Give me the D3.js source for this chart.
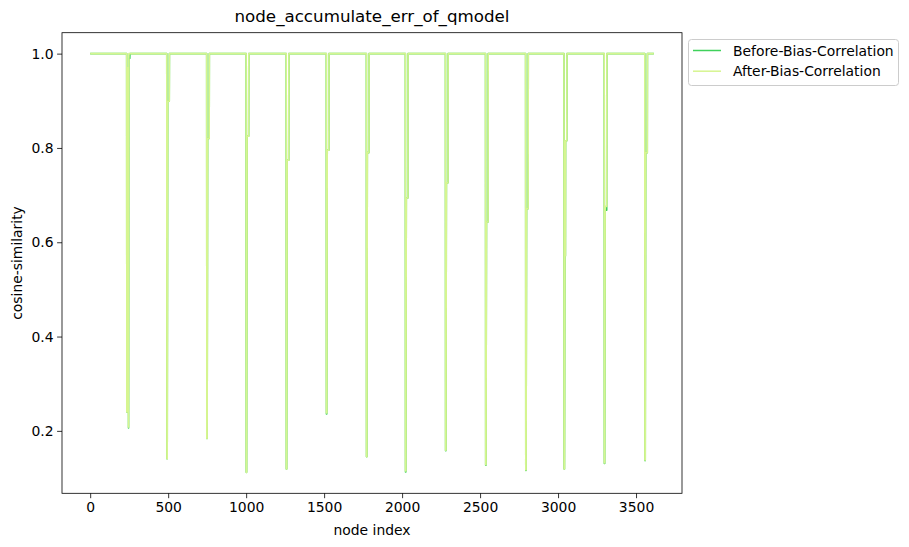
<!DOCTYPE html>
<html>
<head>
<meta charset="utf-8">
<script src="https://cdn.jsdelivr.net/npm/d3@7"></script>
<style>
  html, body { margin: 0; padding: 0; background: #fff; }
  svg { display: block; }
  text { font-family: "DejaVu Sans", sans-serif; fill: #000; }
</style>
</head>
<body>
<svg id="chart" width="909" height="547"></svg>
<script>
// ---------------- data ----------------
const chartTitle = "node_accumulate_err_of_qmodel";
const xLabel = "node index";
const yLabel = "cosine-similarity";
const seriesNames = ["Before-Bias-Correlation", "After-Bias-Correlation"];
const seriesColors = ["#3fd15b", "#d6f590"];
const nodeCount = 3615;           // nodes 0 .. 3614
const baselineValue = 1.0;        // similarity outside the dips
const xTicks = [0, 500, 1000, 1500, 2000, 2500, 3000, 3500];
const yTicks = [0.2, 0.4, 0.6, 0.8, 1.0];

// dip key points [node index, cosine similarity]; baseline 1.0 between groups
const beforeDips = [
  [[235, 0.240], [238, 0.240], [239, 0.970], [244, 0.970], [246, 0.206], [248, 0.990], [254, 0.990]],
  [[492, 0.141], [494, 0.141], [497, 0.899], [507, 0.899]],
  [[748, 0.184], [750, 0.184], [753, 0.820], [763, 0.820]],
  [[1001, 0.112], [1003, 0.112], [1006, 0.825], [1016, 0.825]],
  [[1258, 0.119], [1260, 0.119], [1263, 0.774], [1273, 0.774]],
  [[1515, 0.236], [1517, 0.236], [1520, 0.795], [1530, 0.795]],
  [[1772, 0.145], [1774, 0.145], [1777, 0.790], [1787, 0.790]],
  [[2022, 0.113], [2024, 0.113], [2027, 0.694], [2037, 0.694]],
  [[2279, 0.158], [2281, 0.158], [2284, 0.726], [2294, 0.726]],
  [[2536, 0.127], [2538, 0.127], [2541, 0.643], [2551, 0.643]],
  [[2793, 0.116], [2795, 0.116], [2798, 0.671], [2808, 0.671]],
  [[3039, 0.119], [3041, 0.119], [3044, 0.571], [3047, 0.571], [3048, 0.815], [3056, 0.815]],
  [[3297, 0.131], [3299, 0.131], [3302, 0.668], [3312, 0.668]],
  [[3557, 0.137], [3559, 0.137], [3562, 0.790], [3572, 0.790]]
];
const afterDips = [
  [[235, 0.240], [238, 0.240], [239, 0.970], [244, 0.970], [246, 0.208], [248, 1.000]],
  [[492, 0.141], [494, 0.141], [497, 0.899], [507, 0.899]],
  [[748, 0.184], [750, 0.184], [753, 0.820], [763, 0.820]],
  [[1001, 0.112], [1003, 0.112], [1006, 0.825], [1016, 0.825]],
  [[1258, 0.119], [1260, 0.119], [1263, 0.774], [1273, 0.774]],
  [[1515, 0.238], [1517, 0.238], [1520, 0.795], [1530, 0.795]],
  [[1772, 0.145], [1774, 0.145], [1777, 0.790], [1787, 0.790]],
  [[2022, 0.115], [2024, 0.115], [2027, 0.694], [2037, 0.694]],
  [[2279, 0.159], [2281, 0.159], [2284, 0.726], [2294, 0.726]],
  [[2536, 0.128], [2538, 0.128], [2541, 0.643], [2551, 0.643]],
  [[2793, 0.117], [2795, 0.117], [2798, 0.671], [2808, 0.671]],
  [[3039, 0.119], [3041, 0.119], [3044, 0.571], [3047, 0.571], [3048, 0.815], [3056, 0.815]],
  [[3297, 0.132], [3299, 0.132], [3302, 0.676], [3312, 0.676]],
  [[3557, 0.138], [3559, 0.138], [3562, 0.790], [3572, 0.790]]
];

// ---------------- build line points ----------------
function buildSeries(groups) {
  const pts = [[0, baselineValue]];
  groups.forEach(g => {
    pts.push([g[0][0] - 1, baselineValue]);
    g.forEach(p => pts.push(p));
    pts.push([g[g.length - 1][0] + 1, baselineValue]);
  });
  pts.push([nodeCount - 1, baselineValue]);
  return pts;
}
const seriesData = [buildSeries(beforeDips), buildSeries(afterDips)];

// ---------------- layout ----------------
const svg = d3.select("#chart");
const W = 909, H = 547;
const m = { left: 62, right: 682, top: 32.7, bottom: 493.3 };

const allPts = seriesData.flat();
const xMin = 0, xMax = nodeCount - 1;
const xPad = 0.05 * (xMax - xMin);
const yExt = d3.extent(allPts, d => d[1]);
const yPad = 0.05 * (yExt[1] - yExt[0]);

const x = d3.scaleLinear().domain([xMin - xPad, xMax + xPad]).range([m.left, m.right]);
const y = d3.scaleLinear().domain([yExt[0] - yPad, yExt[1] + yPad]).range([m.bottom, m.top]);

svg.append("rect").attr("width", W).attr("height", H).attr("fill", "#fff");

// clip
svg.append("clipPath").attr("id", "clip").append("rect")
  .attr("x", m.left).attr("y", m.top)
  .attr("width", m.right - m.left).attr("height", m.bottom - m.top);

const line = d3.line().x(d => x(d[0])).y(d => y(d[1]));
const plot = svg.append("g").attr("clip-path", "url(#clip)");
seriesData.forEach((pts, i) => {
  plot.append("path").datum(pts)
    .attr("fill", "none")
    .attr("stroke", seriesColors[i])
    .attr("stroke-width", 1.6)
    .attr("stroke-linejoin", "round")
    .attr("d", line);
});

// axes
const xAxis = d3.axisBottom(x).tickValues(xTicks).tickFormat(d3.format("d")).tickSizeInner(4.9).tickSizeOuter(0).tickPadding(3.5);
const yAxis = d3.axisLeft(y).tickValues(yTicks).tickFormat(d3.format(".1f")).tickSizeInner(4.9).tickSizeOuter(0).tickPadding(3.5);

const gx = svg.append("g").attr("transform", `translate(0,${m.bottom})`).call(xAxis);
const gy = svg.append("g").attr("transform", `translate(${m.left},0)`).call(yAxis);
[gx, gy].forEach(g => {
  g.select(".domain").remove();
  g.selectAll(".tick line").attr("stroke", "#000").attr("stroke-width", 0.8);
  g.selectAll(".tick text").attr("font-family", "DejaVu Sans").attr("font-size", "13.9px").attr("fill", "#000");
});

// frame
svg.append("rect")
  .attr("x", m.left).attr("y", m.top)
  .attr("width", m.right - m.left).attr("height", m.bottom - m.top)
  .attr("fill", "none").attr("stroke", "#000").attr("stroke-width", 0.8);

// title & labels
const cx = (m.left + m.right) / 2;
svg.append("text").attr("x", cx).attr("y", 22).attr("text-anchor", "middle")
  .attr("font-size", "16.7px").text(chartTitle);
svg.append("text").attr("x", cx).attr("y", 535).attr("text-anchor", "middle")
  .attr("font-size", "13.9px").text(xLabel);
svg.append("text").attr("transform", `translate(22,${(m.top + m.bottom) / 2}) rotate(-90)`)
  .attr("text-anchor", "middle").attr("font-size", "13.9px").text(yLabel);

// legend
const lg = svg.append("g");
lg.append("rect").attr("x", 688.5).attr("y", 39.5).attr("width", 210).attr("height", 46)
  .attr("rx", 3).attr("fill", "#fff").attr("fill-opacity", 0.8)
  .attr("stroke", "#cccccc").attr("stroke-width", 1);
seriesNames.forEach((name, i) => {
  const ly = 50.5 + i * 20.7;
  lg.append("line").attr("x1", 693).attr("x2", 721).attr("y1", ly).attr("y2", ly)
    .attr("stroke", seriesColors[i]).attr("stroke-width", 1.5);
  lg.append("text").attr("x", 733).attr("y", ly + 5).attr("font-size", "13.9px").text(name);
});
</script>
</body>
</html>
